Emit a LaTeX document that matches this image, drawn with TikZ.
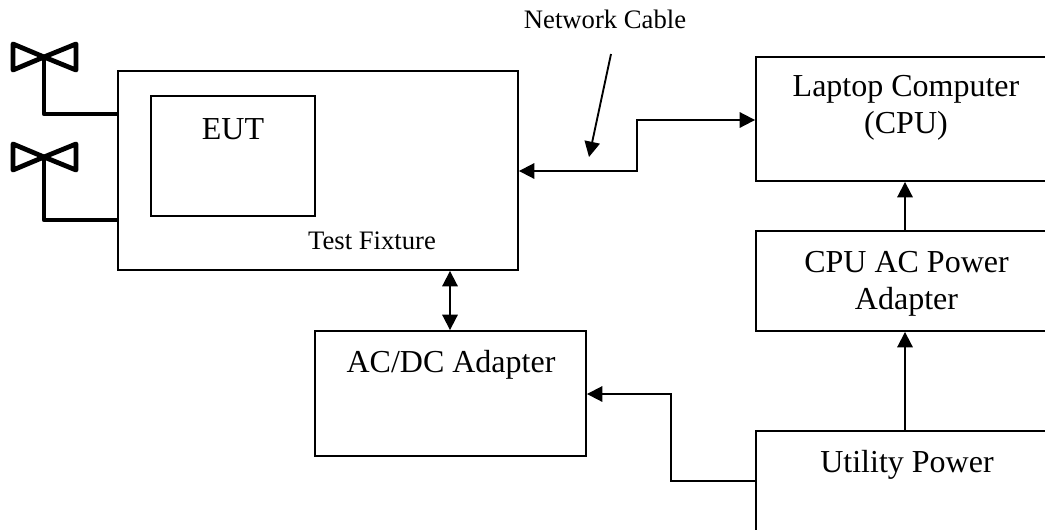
\documentclass[tikz,border=0pt]{standalone}
\usepackage{fontspec}
\setmainfont{Liberation Serif}
\usetikzlibrary{arrows.meta}
\tikzset{
  block/.style={draw, line width=1.4pt, inner sep=0pt},
  bigtext/.style={font=\fontsize{24}{27.5}\selectfont, align=center, inner sep=0pt},
  smalltext/.style={font=\fontsize{20}{24}\selectfont, anchor=base, inner sep=0pt},
  link/.style={line width=1.4pt},
  antenna/.style={line width=3.6pt, line join=round}
}
\begin{document}
\begin{tikzpicture}[>={Triangle[length=11.5pt,width=11.5pt]}, x=.75pt, y=-.75pt]
\useasboundingbox (0,0) rectangle (1045,529);

% boxes
\node (fixture)[block, minimum width=300pt, minimum height=149.25pt] at (318,170.5){};
\node (eut)[block, minimum width=123pt, minimum height=90pt] at (233,156){};
\node (laptop)[block, minimum width=217.5pt, minimum height=93pt] at (901,119){};
\node (cpuac)[block, minimum width=217.5pt, minimum height=75pt] at (901,281){};
\node (adapter)[block, minimum width=203.25pt, minimum height=93.75pt] at (450.5,393.5){};
\node (utility)[block, minimum width=217.5pt, minimum height=93pt] at (901,493){};

% texts
\node (eutlabel)[bigtext] at (233,129){EUT};
\node (fixturelabel)[smalltext] at (372,249){Test Fixture};
\node (cablelabel)[smalltext] at (605,28.5){Network Cable};
\node (laptoplabel)[bigtext] at (906,108){Laptop Computer\\(CPU)};
\node (cpuaclabel)[bigtext] at (906.5,283.5){CPU AC Power\\Adapter};
\node (adapterlabel)[bigtext] at (451,365){AC/DC Adapter};
\node (utilitylabel)[bigtext] at (907,465){Utility Power};

% connectors
\draw[<->, link](fixture.east |- 0,171)--(637,171)--(637,120)--(laptop.west |- 0,120);
\draw[<->, link](fixture.south -| 450,0)--(adapter.north -| 450,0);
\draw[->, link](utility.north -| 905,0)--(cpuac.south -| 905,0);
\draw[->, link](cpuac.north -| 905,0)--(laptop.south -| 905,0);
\draw[->, link](utility.west |- 0,481)--(671,481)--(671,394)--(adapter.east |- 0,394);

% network cable pointer
\coordinate (cabletop) at (611,54);
\coordinate (cabletip) at (589,157);
\draw[->, link](cabletop)--(cabletip);

% antennas
\foreach \y/\e in {57/114, 157/220}{
  \draw[antenna](44,\y)--(13,\y-13)--(13,\y+13)--cycle;
  \draw[antenna](44,\y)--(76,\y-13)--(76,\y+13)--cycle;
  \draw[antenna](44,\y)--(44,\e)--(fixture.west |- 0,\e);
}
\end{tikzpicture}
\end{document}
